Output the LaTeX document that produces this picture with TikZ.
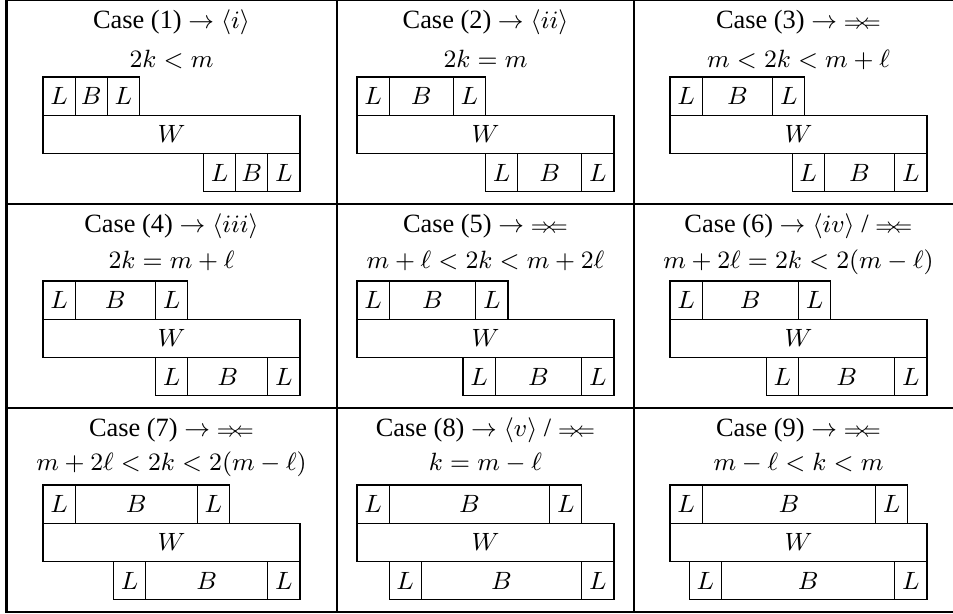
\documentclass[tikz,border=0pt]{standalone}
\usepackage[no-math]{fontspec}
\setmainfont{Liberation Serif}
\usetikzlibrary{positioning}
\newcommand{\contra}{\ensuremath{\mathrel{\scriptstyle\Rightarrow\mkern-5.5mu\Leftarrow}}}
\begin{document}
\begin{tikzpicture}[
    x=0.36pt, y=-0.36pt,
    font=\fontsize{9.5}{11}\selectfont,
    rule/.style={line width=0.94pt, black},
    piece/.style={
        rectangle, draw, line width=0.4pt,
        inner sep=0pt, outer sep=0pt,
        minimum height=13.79pt, anchor=north west
    },
    lpiece/.style={piece, minimum width=11.565pt},
    label/.style={anchor=base, inner sep=0pt}
]
\useasboundingbox (0,0) rectangle (953,614);
% table rules
\draw [rule] (5.4,0)--(953,0);
\draw [rule] (5.4,204)--(953,204);
\draw [rule] (5.4,408)--(953,408);
\draw [rule] (5.4,612)--(953,612);
\draw [rule] (6.7,0)--(6.7,612);
\draw [rule] (337,0)--(337,612);
\draw [rule] (634,0)--(634,612);
% one cell per case: number/centre/row top/k/formula baseline/title/formula
\foreach \n/\cx/\ry/\kk/\fy/\ttl/\frm in {
    1/171.5/0/3/68/{Case (1) $\rightarrow \langle i\rangle$}/{$2k<m$},
    2/485.5/0/4/68/{Case (2) $\rightarrow \langle ii\rangle$}/{$2k=m$},
    3/798.5/0/4.2/68/{Case (3) $\rightarrow$ \contra}/{$m<2k<m+\ell$},
    4/171.5/204/4.5/65/{Case (4) $\rightarrow \langle iii\rangle$}/{$2k=m+\ell$},
    5/485.5/204/4.7/65/{Case (5) $\rightarrow$ \contra}/{$m+\ell<2k<m+2\ell$},
    6/798.5/204/5/65/{Case (6) $\rightarrow \langle iv\rangle$ / \contra}/{$m+2\ell=2k<2(m-\ell)$},
    7/171.5/408/5.8/63/{Case (7) $\rightarrow$ \contra}/{$m+2\ell<2k<2(m-\ell)$},
    8/485.5/408/7/63/{Case (8) $\rightarrow \langle v\rangle$ / \contra}/{$k=m-\ell$},
    9/798.5/408/7.4/63/{Case (9) $\rightarrow$ \contra}/{$m-\ell<k<m$}%
}{
    \node (title\n) [label] at (\cx,\ry+28.5) {\ttl};
    \node (cond\n) [label] at (\cx,\ry+\fy) {\frm};
    \node (tl\n) [lpiece] at (\cx-128.5,\ry+77) {$L$};
    \node (tb\n) [piece, minimum width={(\kk-2)*11.565pt}, right=0pt of tl\n] {$B$};
    \node (tr\n) [lpiece, right=0pt of tb\n] {$L$};
    \node (w\n) [piece, minimum width=92.52pt] at (\cx-128.5,\ry+115.3) {$W$};
    \node (bl\n) [lpiece] at ({\cx-128.5+(8-\kk)*32.125},\ry+153.6) {$L$};
    \node (bb\n) [piece, minimum width={(\kk-2)*11.565pt}, right=0pt of bl\n] {$B$};
    \node (br\n) [lpiece, right=0pt of bb\n] {$L$};
}
\end{tikzpicture}
\end{document}
